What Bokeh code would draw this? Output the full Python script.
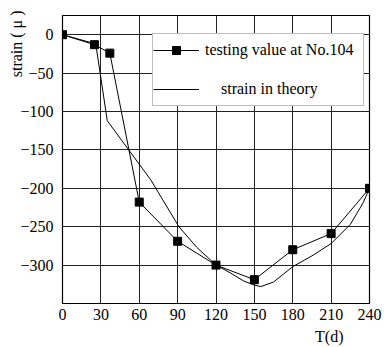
from bokeh.plotting import figure
from bokeh.models import FixedTicker, Legend, LegendItem, Title
from bokeh.embed import file_html
from bokeh.resources import INLINE

# Data
test_t = [0, 25, 37, 60, 90, 120, 150, 180, 210, 240]
test_strain = [0, -13, -24, -218, -269, -300, -319, -280, -259, -200]

theory_t = [0, 26, 35, 69, 91, 105, 120, 131, 142, 150, 155, 165, 180, 195, 210, 225, 235, 240]
theory_strain = [0, -12, -112, -189, -250, -277, -300, -310, -321, -326, -328, -322, -302, -288, -272, -247, -219, -200]

x_ticks = [0, 30, 60, 90, 120, 150, 180, 210, 240]
y_ticks = [0, -50, -100, -150, -200, -250, -300]

legend_test = "testing value at No.104"
legend_theory = "\u00a0\u00a0\u00a0\u00a0strain in theory"
x_title = "T(d)"
y_title = "strain ( \u03bc )"

FONT = "Liberation Serif"

p = figure(width=388, height=347, x_range=(0, 240), y_range=(-350, 25),
           output_backend="svg", toolbar_location=None, title=None,
           min_border_left=62, min_border_right=19, min_border_top=15, min_border_bottom=43)
p.background_fill_color = "white"
p.border_fill_color = "white"
p.outline_line_color = "black"
p.outline_line_width = 1.2

for ax in (p.xaxis[0], p.yaxis[0]):
    ax.axis_line_color = None
    ax.major_tick_line_color = None
    ax.minor_tick_line_color = None
    ax.major_tick_in = 0
    ax.major_tick_out = 0
    ax.minor_tick_in = 0
    ax.minor_tick_out = 0
    ax.major_label_text_font = FONT
    ax.major_label_text_font_size = "16px"
    ax.major_label_text_color = "black"

p.xaxis.ticker = FixedTicker(ticks=x_ticks)
p.yaxis.ticker = FixedTicker(ticks=y_ticks)
p.xaxis.major_label_standoff = 5
p.yaxis.major_label_standoff = 9

p.xgrid.ticker = FixedTicker(ticks=x_ticks)
p.ygrid.ticker = FixedTicker(ticks=y_ticks)
p.grid.grid_line_color = "#222222"
p.grid.grid_line_width = 1

r_theory = p.line(theory_t, theory_strain, line_color="black", line_width=1)
r_test_line = p.line(test_t, test_strain, line_color="black", line_width=1)
r_test_pts = p.scatter(test_t, test_strain, marker="square", size=8,
                       fill_color="black", line_color="black")

legend = Legend(items=[
    LegendItem(label=legend_test, renderers=[r_test_line, r_test_pts]),
    LegendItem(label=legend_theory, renderers=[r_theory]),
], location=(90, 197))
legend.padding = 0
legend.spacing = 7
legend.glyph_width = 46
legend.glyph_height = 20
legend.label_height = 32
legend.label_width = 158
legend.label_standoff = 6
legend.label_text_font = FONT
legend.label_text_font_size = "16px"
legend.label_text_color = "black"
legend.border_line_color = "#808080"
legend.border_line_width = 1.5
legend.background_fill_color = "white"
legend.background_fill_alpha = 1
p.add_layout(legend, "center")

p.add_layout(Title(text=x_title, align="right", offset=26, standoff=6,
                   text_font=FONT, text_font_size="16px", text_font_style="normal",
                   text_color="black"), "below")
p.add_layout(Title(text=y_title, align="right", offset=-5, standoff=-15,
                   text_font=FONT, text_font_size="16px", text_font_style="normal",
                   text_color="black"), "left")

open("out.html", "w").write(file_html(p, INLINE))
